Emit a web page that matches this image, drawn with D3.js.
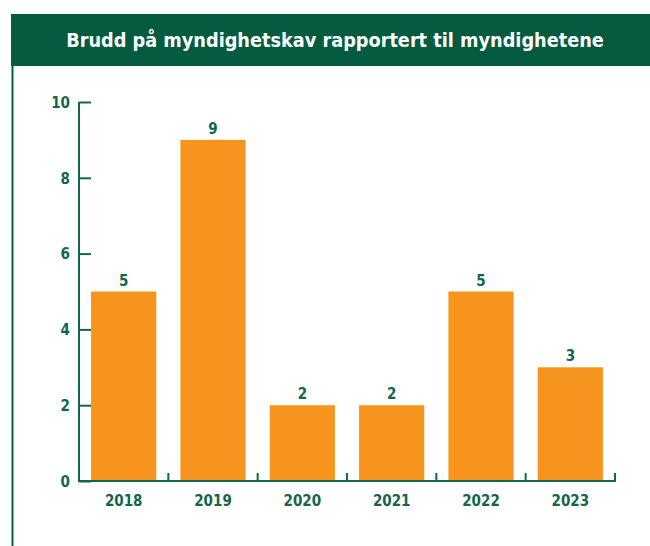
<!DOCTYPE html>
<html>
<head>
<meta charset="utf-8">
<script src="https://cdn.jsdelivr.net/npm/d3@7"></script>
<style>
	body { margin: 0; background: #fff; }
	svg { display: block; }
	text { font-family: "DejaVu Sans Condensed", "DejaVu Sans", sans-serif; font-weight: bold; }
</style>
</head>
<body>
<svg id="plot" width="650" height="546"></svg>
<script>

const TITLE = 'Brudd på myndighetskav rapportert til myndighetene';
const YEARS = ['2018', '2019', '2020', '2021', '2022', '2023'];
const COUNTS = [5, 9, 2, 2, 5, 3];
const Y_TICKS = [0, 2, 4, 6, 8, 10];

const GREEN = '#045b3f';
const AXIS = '#13664a';
const ORANGE = '#f7941d';

const data = YEARS.map((x, i) => {
	return {'name': x, 'y': COUNTS[i]};
});

function drawChart(svg_id, dataset) {

	const box = {left: 79, right: 615, top: 102, bottom: 481};
	const svg = d3.select('#' + svg_id);

	// header band + left rule
	svg.append('rect')
		.attr('x', 11).attr('y', 14)
		.attr('width', 639).attr('height', 52)
		.style('fill', GREEN);

	svg.append('line')
		.attr('x1', 12.5).attr('x2', 12.5)
		.attr('y1', 66).attr('y2', 546)
		.style('stroke', GREEN).style('stroke-width', 2);

	svg.append('text')
		.attr('x', 335).attr('y', 47)
		.attr('text-anchor', 'middle')
		.style('fill', '#fff')
		.style('font-size', '19.7px')
		.text(TITLE);

	const y = d3.scaleLinear()
		.domain([0, 10])
		.range([box.bottom, box.top]);

	const x = d3.scaleBand()
		.domain(dataset.map(d => d.name))
		.range([box.left, box.right])
		.paddingInner(0.27)
		.paddingOuter(0.135);

	const band = (box.right - box.left) / dataset.length;

	// bars
	svg.append('g').selectAll('rect')
		.data(dataset)
		.enter().append('rect')
		.attr('x', d => x(d.name))
		.attr('y', d => y(d.y))
		.attr('width', x.bandwidth())
		.attr('height', d => y(0) - y(d.y))
		.style('fill', ORANGE);

	// value labels
	svg.append('g').selectAll('text')
		.data(dataset)
		.enter().append('text')
		.attr('x', d => x(d.name) + x.bandwidth() / 2)
		.attr('y', d => y(d.y) - 6)
		.attr('text-anchor', 'middle')
		.style('fill', AXIS)
		.style('font-size', '15px')
		.text(d => d.y);

	// y axis
	const yAxis = svg.append('g')
		.attr('transform', `translate(${box.left},0)`)
		.call(d3.axisRight(y).tickValues(Y_TICKS).tickSize(12).tickFormat(d3.format('d')));
	yAxis.select('.domain').attr('d', `M0,${box.top}V${box.bottom}`);
	yAxis.selectAll('line, path').style('stroke', AXIS).style('stroke-width', 2);
	yAxis.selectAll('text')
		.attr('x', -9)
		.attr('dy', '0.35em')
		.attr('text-anchor', 'end')
		.style('fill', AXIS)
		.style('font-size', '15px')
		.style('font-family', '"DejaVu Sans Condensed", sans-serif');

	// x axis: ticks at band edges, pointing up
	const edges = d3.range(1, dataset.length + 1).map(i => box.left + i * band);
	const xAxis = svg.append('g');
	xAxis.append('line')
		.attr('x1', box.left - 1).attr('x2', box.right + 1)
		.attr('y1', box.bottom).attr('y2', box.bottom)
		.style('stroke', AXIS).style('stroke-width', 2);
	xAxis.selectAll('.edge')
		.data(edges)
		.enter().append('line')
		.attr('x1', d => d).attr('x2', d => d)
		.attr('y1', box.bottom).attr('y2', box.bottom - 8)
		.style('stroke', AXIS).style('stroke-width', 2);
	xAxis.selectAll('text')
		.data(dataset)
		.enter().append('text')
		.attr('x', d => x(d.name) + x.bandwidth() / 2)
		.attr('y', box.bottom + 25)
		.attr('text-anchor', 'middle')
		.style('fill', AXIS)
		.style('font-size', '15px')
		.text(d => d.name);
}

drawChart('plot', data);
</script>
</body>
</html>
